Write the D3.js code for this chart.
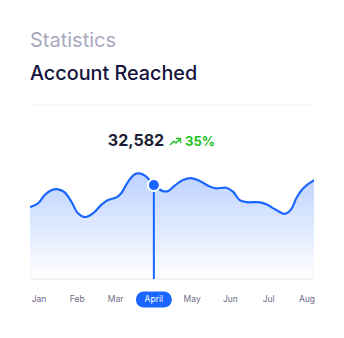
<!DOCTYPE html>
<html>
<head>
<meta charset="utf-8">
<script src="https://cdn.jsdelivr.net/npm/d3@7"></script>
<style>
  body { margin: 0; background: #fff; font-family: Inter, "Noto Sans", sans-serif; }
</style>
</head>
<body>
<svg id="chart" width="344" height="338"></svg>
<script>
// month labels along the bottom
const months = ["Jan", "Feb", "Mar", "April", "May", "Jun", "Jul", "Aug"];
const activeMonth = "April";

// curve points: position in months (0 = Jan) and accounts reached
const pointMonths = [-0.243, -0.026, 0.149, 0.321, 0.496, 0.671, 0.844, 1.019, 1.209, 1.410,
                     1.627, 1.802, 2.019, 2.150, 2.325, 2.500, 2.630, 2.803, 3.0, 3.239,
                     3.369, 3.544, 3.761, 3.978, 4.197, 4.459, 4.631, 4.892, 5.067, 5.242,
                     5.415, 5.720, 5.937, 6.198, 6.418, 6.590, 6.721, 6.896, 7.157, 7.21];
const pointValues = [23900, 25200, 28000, 29600, 29900, 28900, 25800, 21900, 20600, 21900,
                     24700, 26300, 27200, 28600, 32400, 34900, 35200, 34100, 31300, 29300,
                     29300, 31100, 33000, 33600, 32700, 30800, 30200, 30400, 29100, 26300,
                     25600, 25600, 24900, 23000, 21700, 23300, 26900, 30200, 32700, 33000];

const gridValues = [0, 10000, 20000];
const highlightLabel = "32,582";
const highlightChange = "35%";

const left = 30, right = 314;
const svg = d3.select("#chart");

// header
svg.append("text")
    .attr("x", left).attr("y", 47)
    .attr("font-size", 20)
    .attr("fill", "#aaa8bf")
    .text("Statistics");

svg.append("text")
    .attr("x", left).attr("y", 79.5)
    .attr("font-size", 19.8)
    .attr("font-weight", 500)
    .attr("fill", "#15133d")
    .text("Account Reached");

svg.append("line")
    .attr("x1", left).attr("x2", right)
    .attr("y1", 105).attr("y2", 105)
    .attr("stroke", "#eeeef1")
    .attr("stroke-width", 1);

// scales
const xScale = d3.scaleLinear().domain([0, 7]).range([39, 307]);
const yScale = d3.scaleLinear().domain([0, 40000]).range([279, 159]);

const data = pointMonths.map((m, i) => ({ m: m, v: pointValues[i] }));

const defs = svg.append("defs");
const grad = defs.append("linearGradient")
    .attr("id", "areaFill")
    .attr("gradientUnits", "userSpaceOnUse")
    .attr("x1", 0).attr("x2", 0)
    .attr("y1", 170).attr("y2", 279);
grad.append("stop").attr("offset", "0%").attr("stop-color", "#1a66ff").attr("stop-opacity", 0.3);
grad.append("stop").attr("offset", "100%").attr("stop-color", "#1a66ff").attr("stop-opacity", 0.0);

const clip = defs.append("clipPath").attr("id", "plotClip");
clip.append("rect").attr("x", left).attr("y", 120).attr("width", right - left).attr("height", 170);

const plot = svg.append("g").attr("clip-path", "url(#plotClip)");

const curve = d3.curveCatmullRom.alpha(0.5);

const area = d3.area()
    .x(d => xScale(d.m))
    .y0(yScale(0))
    .y1(d => yScale(d.v))
    .curve(curve);

const line = d3.line()
    .x(d => xScale(d.m))
    .y(d => yScale(d.v))
    .curve(curve);

plot.append("path")
    .datum(data)
    .attr("d", area)
    .attr("fill", "url(#areaFill)");

// grid lines
svg.selectAll(".grid")
    .data(gridValues)
    .join("line")
        .attr("class", "grid")
        .attr("x1", left).attr("x2", right)
        .attr("y1", d => yScale(d)).attr("y2", d => yScale(d))
        .attr("stroke", "#e6e8f0")
        .attr("stroke-width", 1);

plot.append("path")
    .datum(data)
    .attr("d", line)
    .attr("fill", "none")
    .attr("stroke", "#1a66ff")
    .attr("stroke-width", 2.2);

// highlighted month marker
const activeIndex = months.indexOf(activeMonth);
const activePoint = data.reduce((a, b) => Math.abs(b.m - activeIndex) < Math.abs(a.m - activeIndex) ? b : a);
const cx = xScale(activePoint.m), cy = yScale(activePoint.v);

svg.append("line")
    .attr("x1", cx).attr("x2", cx)
    .attr("y1", cy).attr("y2", yScale(0))
    .attr("stroke", "#1a66ff")
    .attr("stroke-width", 2);

svg.append("circle")
    .attr("cx", cx).attr("cy", cy)
    .attr("r", 6)
    .attr("fill", "#1a66ff")
    .attr("stroke", "#fff")
    .attr("stroke-width", 2);

// value label
svg.append("text")
    .attr("x", 136).attr("y", 146)
    .attr("text-anchor", "middle")
    .attr("font-size", 16)
    .attr("font-weight", 700)
    .attr("fill", "#201e36")
    .text(highlightLabel);

const trend = svg.append("g").attr("transform", "translate(170,137)");
trend.append("path")
    .attr("d", "M0.5,7.5 L4,4 L6,6 L10,2 M6.5,1.5 L10.5,1.5 L10.5,5.5")
    .attr("fill", "none")
    .attr("stroke", "#21c321")
    .attr("stroke-width", 1.4)
    .attr("stroke-linecap", "round")
    .attr("stroke-linejoin", "round");

svg.append("text")
    .attr("x", 185).attr("y", 146)
    .attr("font-size", 13)
    .attr("font-weight", 700)
    .attr("fill", "#21c321")
    .text(highlightChange);

// month axis
const monthG = svg.selectAll(".month")
    .data(months)
    .join("g")
        .attr("class", "month")
        .attr("transform", (d, i) => `translate(${xScale(i)},299.5)`);

monthG.filter(d => d === activeMonth)
    .append("rect")
        .attr("x", -18).attr("y", -8)
        .attr("width", 36).attr("height", 16)
        .attr("rx", 8)
        .attr("fill", "#1a66ff");

monthG.append("text")
    .attr("text-anchor", "middle")
    .attr("dy", "0.35em")
    .attr("font-size", 8.5)
    .attr("fill", d => d === activeMonth ? "#fff" : "#6f6c86")
    .text(d => d);
</script>
</body>
</html>
